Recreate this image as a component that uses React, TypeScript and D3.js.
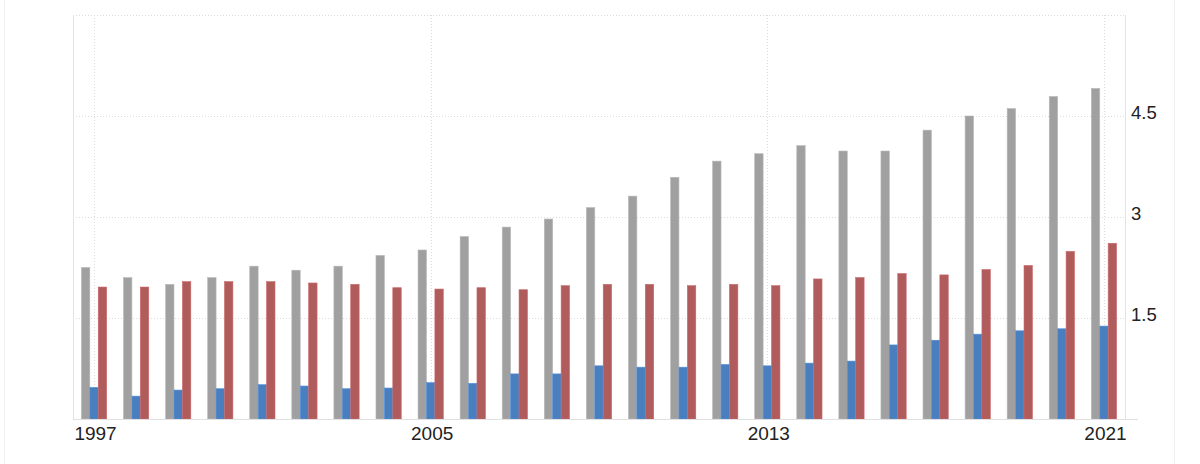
import React, { useRef, useEffect } from 'react';
import * as d3 from 'd3';

const years = d3.range(1997, 2022).map(String);
const seriesKeys = ['gray', 'blue', 'red'];
const grayValues = [2.25, 2.1, 2.0, 2.1, 2.27, 2.21, 2.27, 2.43, 2.51, 2.71, 2.85, 2.97, 3.14, 3.31, 3.59, 3.83, 3.94, 4.06, 3.98, 3.98, 4.29, 4.5, 4.61, 4.79, 4.91];
const blueValues = [0.47, 0.34, 0.43, 0.45, 0.51, 0.49, 0.45, 0.46, 0.54, 0.53, 0.67, 0.67, 0.79, 0.77, 0.77, 0.81, 0.79, 0.83, 0.86, 1.1, 1.17, 1.26, 1.31, 1.34, 1.38];
const redValues = [1.96, 1.96, 2.04, 2.04, 2.04, 2.02, 2.0, 1.95, 1.93, 1.95, 1.92, 1.98, 2.0, 2.0, 1.98, 2.0, 1.98, 2.08, 2.1, 2.16, 2.14, 2.22, 2.28, 2.49, 2.61];
const yTicks = [1.5, 3, 4.5];
const xTickYears = ['1997', '2005', '2013', '2021'];

const colors: Record<string, string> = { gray: '#a0a0a0', blue: '#4a7fbf', red: '#b05b5c' };

const W = 1200;
const H = 464;

const App: React.FC = () => {
  const ref = useRef<SVGSVGElement>(null);

  useEffect(() => {
    const svg = d3.select(ref.current);
    svg.selectAll('*').remove();

    const left = 73, right = 1125, top = 15, bottom = 419;

    const x = d3.scaleBand().domain(years).range([left, right]).paddingInner(0.4).paddingOuter(0.2);
    const x1 = d3.scaleBand().domain(seriesKeys).range([0, x.bandwidth()]);
    const y = d3.scaleLinear().domain([0, 6]).range([bottom, top]);

    // outer frame
    svg.append('line').attr('x1', 4.5).attr('x2', 4.5).attr('y1', 0).attr('y2', H).attr('stroke', '#efefef');
    svg.append('line').attr('x1', 1174.5).attr('x2', 1174.5).attr('y1', 0).attr('y2', H).attr('stroke', '#efefef');

    // horizontal grid
    svg.append('g')
      .selectAll('line')
      .data([...yTicks, 6])
      .join('line')
      .attr('x1', left)
      .attr('x2', right)
      .attr('y1', (d) => Math.round(y(d)) + 0.5)
      .attr('y2', (d) => Math.round(y(d)) + 0.5)
      .attr('stroke', '#dcdcdc')
      .attr('stroke-dasharray', '1,2');

    // vertical grid
    svg.append('g')
      .selectAll('line')
      .data(xTickYears)
      .join('line')
      .attr('x1', (d) => Math.round(x(d)! + x.bandwidth() / 2) + 0.5)
      .attr('x2', (d) => Math.round(x(d)! + x.bandwidth() / 2) + 0.5)
      .attr('y1', top)
      .attr('y2', bottom)
      .attr('stroke', '#dcdcdc')
      .attr('stroke-dasharray', '1,2');

    // plot borders
    svg.append('line').attr('x1', left + 0.5).attr('x2', left + 0.5).attr('y1', top).attr('y2', bottom).attr('stroke', '#e4e4e4');
    svg.append('line').attr('x1', right + 0.5).attr('x2', right + 0.5).attr('y1', top).attr('y2', bottom).attr('stroke', '#e4e4e4');

    // bars
    const rows = years.map((yr, i) => ({ yr, gray: grayValues[i], blue: blueValues[i], red: redValues[i] }));
    const groups = svg.append('g')
      .selectAll('g')
      .data(rows)
      .join('g')
      .attr('transform', (d) => `translate(${x(d.yr)},0)`);
    groups
      .selectAll('rect')
      .data((d) => seriesKeys.map((k) => ({ k, v: (d as any)[k] as number })))
      .join('rect')
      .attr('x', (d) => x1(d.k)!)
      .attr('width', x1.bandwidth())
      .attr('y', (d) => y(d.v))
      .attr('height', (d) => bottom - y(d.v))
      .attr('fill', (d) => colors[d.k])
      .attr('stroke', (d) => d3.color(colors[d.k])!.brighter(0.4).formatHex())
      .attr('stroke-width', 0.6);

    // bottom axis line
    svg.append('line').attr('x1', left).attr('x2', 1138).attr('y1', bottom + 0.5).attr('y2', bottom + 0.5).attr('stroke', '#e0e0e0');

    // right axis tick labels
    svg.append('g')
      .selectAll('text')
      .data(yTicks)
      .join('text')
      .attr('x', 1131)
      .attr('y', (d) => y(d) + 2.5)
      .attr('font-size', 18.5)
      .attr('font-family', 'Liberation Sans, Arial, sans-serif')
      .attr('fill', '#222')
      .text((d) => String(d));

    // x tick labels
    svg.append('g')
      .selectAll('text')
      .data(xTickYears)
      .join('text')
      .attr('x', (d) => x(d)! + x.bandwidth() / 2 + 1.5)
      .attr('y', 440)
      .attr('text-anchor', 'middle')
      .attr('font-size', 19)
      .attr('font-family', 'Liberation Sans, Arial, sans-serif')
      .attr('fill', '#222')
      .text((d) => d);
  }, []);

  return (
    <svg
      ref={ref}
      width={W}
      height={H}
      style={{ position: 'absolute', left: 0, top: 0, background: '#fff' }}
    />
  );
};

export default App;
